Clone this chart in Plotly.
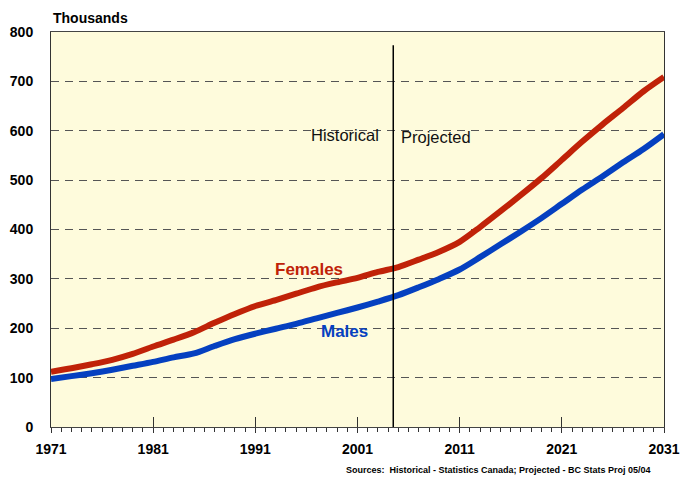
import plotly.graph_objects as go

years = [1971, 1973, 1975, 1977, 1979, 1981, 1983, 1985, 1987, 1989, 1991, 1993, 1995,
         1997, 1999, 2001, 2003, 2005, 2007, 2009, 2011, 2013, 2015, 2017, 2019, 2021,
         2023, 2025, 2027, 2029, 2031]
females = [112, 119, 127, 136, 148, 163, 177, 192, 211, 229, 245, 257, 270,
           283, 293, 302, 314, 324, 339, 355, 375, 405, 437, 470, 504, 541,
           578, 613, 646, 680, 709]
males = [97, 103, 109, 116, 124, 132, 141, 149, 164, 178, 189, 199, 209,
         220, 231, 242, 254, 267, 283, 300, 319, 344, 370, 396, 423, 452,
         481, 508, 536, 563, 593]
projection_start = 2004.5
x_ticks = [1971, 1981, 1991, 2001, 2011, 2021, 2031]
y_ticks = [0, 100, 200, 300, 400, 500, 600, 700, 800]

FONT = "Arial, Liberation Sans, sans-serif"
RED = "#C02208"
BLUE = "#0540C0"

fig = go.Figure()
fig.add_trace(go.Scatter(x=years, y=females, mode="lines", line=dict(color=RED, width=6, shape="spline", smoothing=0.8), showlegend=False))
fig.add_trace(go.Scatter(x=years, y=males, mode="lines", line=dict(color=BLUE, width=6, shape="spline", smoothing=0.8), showlegend=False))
# overlay axis for the long major ticks crossing the baseline
fig.add_trace(go.Scatter(x=[x_ticks[0], x_ticks[-1]], y=[None, None], xaxis="x2", showlegend=False, hoverinfo="skip"))

fig.add_shape(type="line", x0=projection_start, x1=projection_start, y0=0, y1=773,
              xref="x", yref="y", line=dict(color="black", width=1.5))

fig.add_annotation(x=2003.3, y=591, text="Historical", showarrow=False, xanchor="right",
                   font=dict(family=FONT, size=16.5, color="#111"))
fig.add_annotation(x=2005.1, y=588, text="Projected", showarrow=False, xanchor="left",
                   font=dict(family=FONT, size=16.5, color="#111"))
fig.add_annotation(x=1996.25, y=320, text="<b>Females</b>", showarrow=False,
                   font=dict(family=FONT, size=17, color=RED))
fig.add_annotation(x=1999.75, y=194, text="<b>Males</b>", showarrow=False,
                   font=dict(family=FONT, size=17, color=BLUE))
fig.add_annotation(x=0, y=1, xref="paper", yref="paper", xanchor="left", yanchor="bottom",
                   yshift=4, text="<b>Thousands</b>", showarrow=False,
                   font=dict(family=FONT, size=14, color="black"))
fig.add_annotation(x=0.982, y=-0.11, xref="paper", yref="paper", xanchor="right", yanchor="middle",
                   text="<b>Sources:  Historical - Statistics Canada; Projected - BC Stats Proj 05/04</b>",
                   showarrow=False, font=dict(family=FONT, size=9, color="black"))

fig.update_layout(
    width=689, height=477,
    margin=dict(l=51, r=25, t=32, b=50),
    paper_bgcolor="white",
    plot_bgcolor="#FEFBDC",
    font=dict(family=FONT, color="black"),
    xaxis=dict(range=[1971, 2031], tickvals=x_ticks, ticks="outside", ticklen=5, tickwidth=1,
               tickcolor="#333", showgrid=False, zeroline=False, showline=True, linecolor="#444",
               linewidth=1, mirror=True, automargin=False,
               minor=dict(dtick=1, tick0=1971, ticks="outside", ticklen=4, tickcolor="#333", showgrid=False),
               tickfont=dict(family=FONT, size=14, color="black", weight="bold"), ticklabelstandoff=4),
    xaxis2=dict(range=[1971, 2031], overlaying="x", anchor="y", side="bottom", tickvals=x_ticks,
                ticks="inside", ticklen=10, tickcolor="#333", showticklabels=False, showgrid=False,
                zeroline=False, showline=False),
    yaxis=dict(range=[0, 800], tickvals=y_ticks, ticks="", showgrid=True, gridcolor="#555",
               griddash="8px,6px", gridwidth=1, zeroline=False, showline=True, linecolor="#333",
               linewidth=1, mirror=True, ticklabelstandoff=14, automargin=False,
               tickfont=dict(family=FONT, size=14, color="black", weight="bold")),
)

fig.write_html("out.html", config={"displayModeBar": False},
               post_script="document.body.style.margin='0';document.body.style.padding='0';")
